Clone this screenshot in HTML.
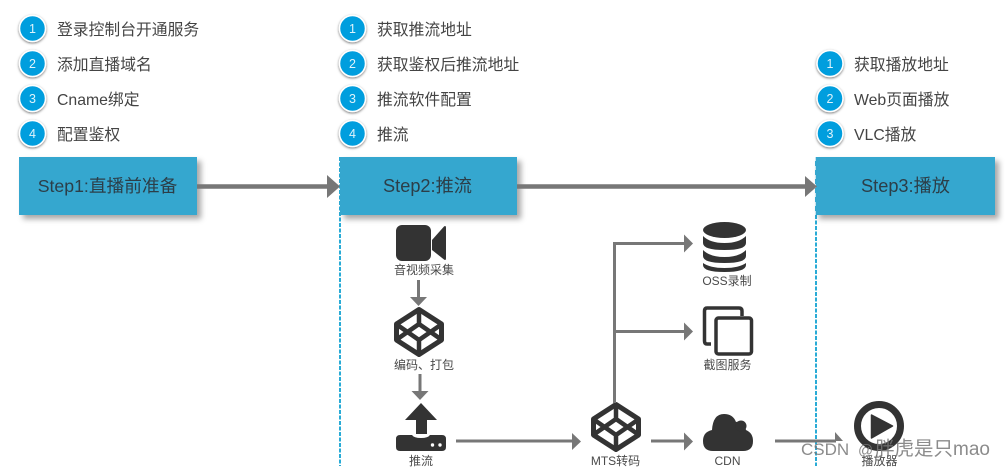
<!DOCTYPE html>
<html><head><meta charset="utf-8">
<style>
html,body{margin:0;padding:0;background:#fff;width:1005px;height:468px;overflow:hidden}
svg{display:block}
text{font-family:"Liberation Sans","Noto Sans CJK SC",sans-serif}
.t{font-size:15.8px;fill:#444}
.n{font-size:12.5px;fill:#dff3fb;text-anchor:middle}
.s{font-size:18.2px;fill:#2c3e48;text-anchor:middle}
.l{font-size:12px;fill:#4a4a4a;text-anchor:middle}
.w{fill:#777;opacity:.85}
</style></head><body>
<svg width="1005" height="468" viewBox="0 0 1005 468" xmlns="http://www.w3.org/2000/svg">
<defs>
<filter id="sh" x="-10%" y="-20%" width="125%" height="150%"><feDropShadow dx="4" dy="4" stdDeviation="3" flood-color="#000" flood-opacity=".35"/></filter>
<filter id="cs" x="-30%" y="-30%" width="160%" height="160%"><feDropShadow dx="0" dy="1" stdDeviation="1.2" flood-color="#000" flood-opacity=".55"/></filter>
<g id="hex">
<path d="M0-22.500 22.500-8V8L0 22.500-22.500 8V-8Z" fill="none" stroke="#333" stroke-width="5" stroke-linejoin="round"/>
<path d="M0-23V-8M0 8V23M-23-8 0 8 23-8M-23 8 0-8 23 8" fill="none" stroke="#333" stroke-width="4.500"/>
</g>
</defs>

<!-- dashed lines -->
<line x1="340" y1="157" x2="340" y2="466" stroke="#29abd6" stroke-width="2" stroke-dasharray="4 1.500"/>
<line x1="816" y1="215" x2="816" y2="466" stroke="#29abd6" stroke-width="2" stroke-dasharray="4 1.500"/>

<!-- step boxes -->
<rect x="19" y="157" width="178" height="58" fill="#34a7cf" filter="url(#sh)"/>
<rect x="340" y="157" width="177" height="58" fill="#34a7cf" filter="url(#sh)"/>
<rect x="815" y="157" width="180" height="58" fill="#34a7cf" filter="url(#sh)"/>
<line x1="815.500" y1="157" x2="815.500" y2="215" stroke="#fff" stroke-width="1" stroke-dasharray="4 5" opacity=".7"/>
<text class="s" x="107.500" y="192" style="font-size:17.700px">Step1:直播前准备</text>
<text class="s" x="427.500" y="192">Step2:推流</text>
<text class="s" x="905.500" y="192">Step3:播放</text>

<!-- main arrows -->
<path d="M197 186.500H328" stroke="#777" stroke-width="4.500"/><path d="M327 175 340 186.500 327 198Z" fill="#777"/>
<path d="M517 186.500H806" stroke="#777" stroke-width="4.500"/><path d="M805 176 817 186.500 805 197Z" fill="#777"/>

<!-- circles -->
<g filter="url(#cs)" fill="#009ede" stroke="#fff" stroke-width="1.500">
<circle cx="32.500" cy="28.500" r="13"/><circle cx="32.500" cy="63.500" r="13"/><circle cx="32.500" cy="98.500" r="13"/><circle cx="32.500" cy="133.500" r="13"/>
<circle cx="352.500" cy="28.500" r="13"/><circle cx="352.500" cy="63.500" r="13"/><circle cx="352.500" cy="98.500" r="13"/><circle cx="352.500" cy="133.500" r="13"/>
<circle cx="830" cy="63.500" r="13"/><circle cx="830" cy="98.500" r="13"/><circle cx="830" cy="133.500" r="13"/>
</g>
<text class="n" x="32.500" y="33">1</text><text class="n" x="32.500" y="68">2</text><text class="n" x="32.500" y="103">3</text><text class="n" x="32.500" y="138">4</text>
<text class="n" x="352.500" y="33">1</text><text class="n" x="352.500" y="68">2</text><text class="n" x="352.500" y="103">3</text><text class="n" x="352.500" y="138">4</text>
<text class="n" x="830" y="68">1</text><text class="n" x="830" y="103">2</text><text class="n" x="830" y="138">3</text>

<text class="t" x="57" y="35">登录控制台开通服务</text>
<text class="t" x="57" y="70">添加直播域名</text>
<text class="t" x="57" y="105">Cname绑定</text>
<text class="t" x="57" y="140">配置鉴权</text>
<text class="t" x="377" y="35">获取推流地址</text>
<text class="t" x="377" y="70">获取鉴权后推流地址</text>
<text class="t" x="377" y="105">推流软件配置</text>
<text class="t" x="377" y="140">推流</text>
<text class="t" x="854" y="70">获取播放地址</text>
<text class="t" x="854" y="105">Web页面播放</text>
<text class="t" x="854" y="140">VLC播放</text>

<!-- video icon -->
<rect x="396" y="225" width="35" height="36" rx="6" fill="#333"/>
<path d="M432 240 444 226.500Q446 225 446 228V258Q446 261 444 259.500L432 250Z" fill="#333"/>
<text class="l" x="424" y="274">音视频采集</text>
<path d="M418.500 280V298" stroke="#777" stroke-width="3"/><path d="M410 297H427L418.500 306Z" fill="#777"/>

<use href="#hex" x="419" y="332"/>
<text class="l" x="424" y="369">编码、打包</text>
<path d="M420 374V392" stroke="#777" stroke-width="3"/><path d="M411.500 391H428.500L420 400Z" fill="#777"/>

<!-- upload icon -->
<path d="M421 403 437 420H427V434H416V420H405Z" fill="#333"/>
<path d="M396 439Q396 435 400 435H412Q414 438 421 438 428 438 430 435H442Q446 435 446 439V447Q446 451 442 451H400Q396 451 396 447Z" fill="#333"/>
<circle cx="432.500" cy="445" r="1.700" fill="#fff"/><circle cx="440" cy="445" r="1.700" fill="#fff"/>
<text class="l" x="421" y="465">推流</text>

<path d="M456 441H573" stroke="#777" stroke-width="3"/><path d="M572 433 581 441.500 572 450Z" fill="#777"/>
<use href="#hex" x="616" y="427"/>
<text class="l" x="615.500" y="465">MTS转码</text>

<!-- branches -->
<path d="M614.500 403V243.500H686M614.500 331.500H686" fill="none" stroke="#777" stroke-width="3"/>
<path d="M684 234.500 693 243.500 684 252.500ZM684 322.500 693 331.500 684 340.500Z" fill="#777"/>
<path d="M651 441H686" stroke="#777" stroke-width="3"/><path d="M684 432.500 693 441.500 684 450.500Z" fill="#777"/>

<!-- cylinder -->
<ellipse cx="724.500" cy="230" rx="21.500" ry="8" fill="#333"/>
<path d="M703 236Q710 243 724.500 243 739 243 746 236V243Q746 250 724.500 250 703 250 703 243Z" fill="#333"/>
<path d="M703 250Q710 257 724.500 257 739 257 746 250V256Q746 263 724.500 263 703 263 703 256Z" fill="#333"/>
<path d="M703 263Q710 268 724.500 268 739 268 746 263V265Q746 272 724.500 272 703 272 703 265Z" fill="#333"/>
<text class="l" x="727" y="285">OSS录制</text>

<!-- copy icon -->
<path d="M711 344H707Q704.500 344 704.500 341V311Q704.500 308 707 308H739Q742 308 742 311V316" fill="none" stroke="#333" stroke-width="3.500"/>
<rect x="716" y="318" width="35.500" height="36" rx="2.500" fill="none" stroke="#333" stroke-width="3.500"/>
<text class="l" x="727.500" y="369">截图服务</text>

<!-- cloud -->
<path d="M713 451Q703 451 703 441 703 432 712 430 713 414 724 414 733 414 736 422 744 420 746 430 753 433 753 441 753 451 743 451Z" fill="#333"/>
<circle cx="741" cy="426" r="5.500" fill="#333"/>
<text class="l" x="727.500" y="465">CDN</text>

<!-- to player -->
<path d="M775 441H836" stroke="#777" stroke-width="3"/><path d="M835 432 843 441H835Z" fill="#777"/>

<!-- player -->
<circle cx="879" cy="426" r="21.500" fill="#fff" stroke="#333" stroke-width="7"/>
<path d="M871.500 415 892.500 426 871.500 438Z" fill="#333" stroke="#333" stroke-width="1.500" stroke-linejoin="round"/>
<text class="l" x="879.500" y="465">播放器</text>

<!-- watermark -->
<text class="w" x="801" y="455" style="font-size:17px">CSDN</text>
<text class="w" x="858" y="455" style="font-size:15px">@</text>
<text class="w" x="875" y="455" style="font-size:19.500px">胖虎是只</text>
<text class="w" x="953" y="455" style="font-size:19px">mao</text>
</svg>
</body></html>
